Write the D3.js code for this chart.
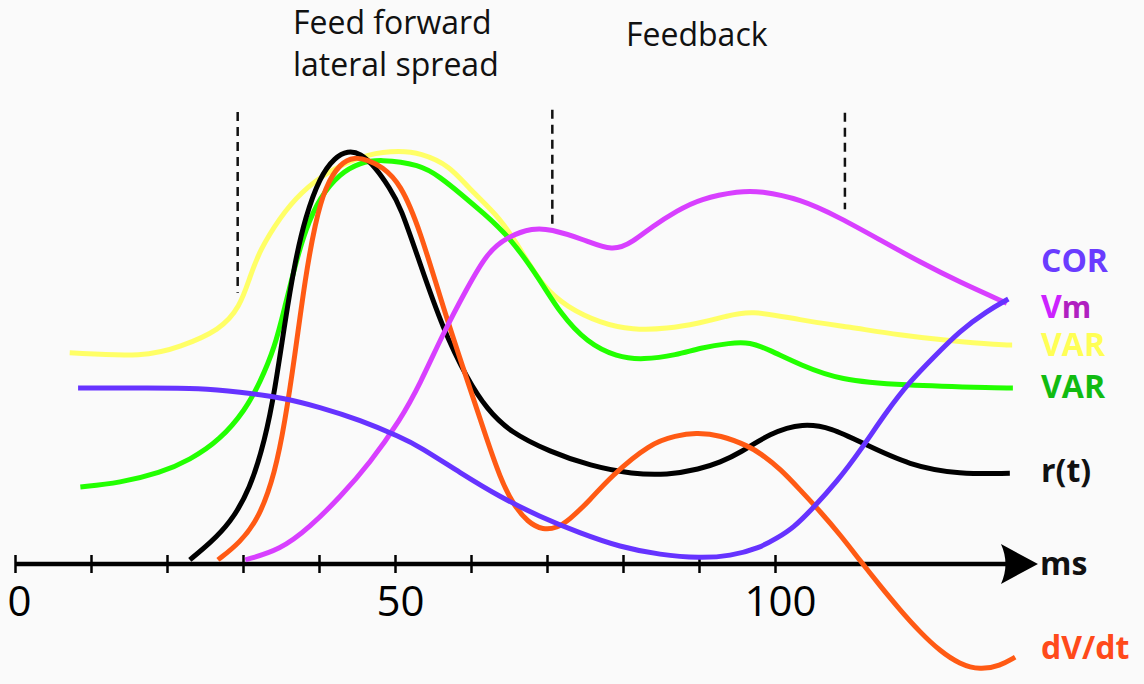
<!DOCTYPE html>
<html>
<head>
<meta charset="utf-8">
<script src="https://cdn.jsdelivr.net/npm/d3@7"></script>
<style>
  html, body { margin: 0; padding: 0; background: #fafafa; }
  #chart { width: 1144px; height: 684px; }
  text { font-family: "Open Sans", "DejaVu Sans", sans-serif; }
</style>
</head>
<body>
<div id="chart"></div>
<script>
// time in ms, response in arbitrary units (0 = axis, 100 = peak)
const varYellowT = [7.2, 17.1, 21.7, 27.0, 29.6, 30.9, 32.2, 34.9, 37.5, 41.4, 46.7, 50.7, 53.3, 57.2, 59.9, 63.8, 66.8, 69.5, 72.6, 77.0, 81.3, 85.8, 90.1, 93.4, 96.7, 103.3, 109.9, 116.4, 123.0, 129.6, 131.2];
const varYellowV = [51.0, 50.0, 52.4, 56.5, 62.1, 69.3, 75.8, 83.8, 89.6, 95.2, 99.3, 99.8, 99.3, 96.3, 90.3, 83.8, 75.1, 66.9, 62.1, 58.2, 56.5, 56.8, 58.2, 59.7, 61.4, 58.9, 57.2, 55.3, 53.9, 52.9, 52.9];

const varGreenT = [8.6, 13.8, 19.1, 23.0, 27.0, 30.3, 32.2, 34.2, 35.5, 36.8, 38.2, 40.1, 42.8, 45.4, 48.0, 53.3, 55.9, 58.6, 61.6, 65.1, 69.1, 71.7, 75.3, 79.2, 82.6, 87.1, 90.1, 94.1, 96.7, 99.3, 103.3, 108.6, 116.4, 129.6, 131.3];
const varGreenV = [18.6, 19.6, 22.0, 25.1, 30.0, 37.2, 43.7, 52.4, 62.1, 71.7, 80.7, 88.6, 94.4, 96.9, 97.8, 96.5, 93.5, 89.5, 84.8, 79.0, 68.6, 60.6, 53.4, 50.0, 49.3, 50.5, 52.2, 53.4, 53.6, 51.7, 48.1, 44.4, 43.2, 42.5, 42.5];

const rateT = [23.0, 25.7, 28.3, 30.9, 32.9, 34.2, 35.5, 36.8, 38.2, 40.1, 42.1, 43.8, 45.4, 47.4, 49.3, 50.7, 53.3, 56.3, 59.5, 62.1, 65.1, 70.4, 75.7, 81.3, 85.8, 90.1, 92.8, 95.4, 99.3, 103.7, 107.5, 111.2, 117.8, 124.3, 130.9];
const rateV = [1.0, 5.1, 9.9, 17.9, 30.0, 42.0, 58.2, 72.7, 83.8, 93.5, 98.3, 99.8, 99.3, 95.9, 90.8, 86.5, 72.5, 56.8, 44.7, 37.4, 31.9, 27.1, 23.7, 21.7, 21.5, 22.9, 24.6, 26.8, 31.6, 34.1, 32.8, 29.5, 23.7, 21.7, 21.9];

const dvdtT = [26.7, 29.6, 32.2, 34.2, 35.5, 36.8, 38.2, 39.5, 40.8, 42.8, 44.7, 46.4, 48.3, 50.7, 53.3, 56.3, 59.5, 62.1, 63.8, 65.5, 67.5, 69.5, 71.3, 72.9, 75.7, 78.3, 83.6, 87.0, 89.5, 92.8, 96.7, 98.0, 100.7, 103.3, 105.9, 108.6, 111.2, 113.8, 116.4, 119.1, 121.7, 124.3, 127.0, 129.6, 131.6];
const dvdtV = [1.0, 5.1, 11.4, 22.0, 34.1, 50.0, 69.3, 82.4, 91.1, 96.9, 98.3, 97.6, 96.0, 92.0, 80.7, 62.1, 44.4, 30.0, 21.0, 14.5, 10.0, 8.2, 8.7, 10.6, 15.5, 21.0, 29.2, 31.0, 31.7, 31.2, 28.3, 26.8, 23.0, 17.9, 12.8, 7.0, 0.8, -5.2, -11.0, -16.5, -21.0, -24.2, -25.6, -24.6, -22.5];

const vmT = [30.3, 34.9, 38.8, 42.8, 46.7, 50.7, 53.3, 56.3, 59.5, 62.1, 64.7, 68.2, 70.4, 74.7, 78.7, 81.3, 83.9, 87.1, 90.1, 95.4, 98.0, 103.3, 108.6, 113.8, 119.1, 124.3, 130.5];
const vmV = [1.0, 3.4, 8.9, 16.2, 24.4, 34.8, 43.5, 55.6, 66.7, 75.1, 79.0, 81.2, 80.9, 78.5, 75.4, 77.8, 81.6, 85.3, 88.2, 90.1, 90.1, 88.2, 83.6, 78.3, 72.9, 68.1, 63.0];

const corT = [8.3, 17.8, 24.3, 29.6, 34.9, 40.1, 45.4, 50.7, 53.3, 58.6, 63.8, 69.1, 74.3, 79.6, 84.9, 90.1, 94.1, 98.0, 100.3, 102.4, 105.0, 108.2, 111.2, 114.7, 117.8, 120.8, 124.3, 127.9, 130.7];
const corV = [42.5, 42.5, 42.5, 41.5, 40.3, 37.9, 34.8, 30.7, 28.3, 22.0, 16.2, 11.4, 7.5, 4.1, 2.2, 1.4, 1.9, 3.9, 6.3, 8.7, 13.5, 20.0, 27.3, 36.9, 44.2, 49.8, 56.3, 61.1, 64.0];

// phase markers (ms) and their top / bottom (response units)
const markerT = [29.3, 70.7, 109.2];
const markerTop = [109.2, 109.7, 109.0];
const markerBottom = [65.5, 81.4, 85.7];

const tickValues = [0, 10, 20, 30, 40, 50, 60, 70, 80, 90, 100];
const tickLabels = ["0", "50", "100"];
const axisEnd = 134.6;

const seriesNames = ["VAR", "VAR", "r(t)", "dV/dt", "Vm", "COR"];

const svg = d3.select("#chart").append("svg")
    .attr("width", 1144)
    .attr("height", 684);

svg.append("rect")
    .attr("width", 1144)
    .attr("height", 684)
    .attr("fill", "#fafafa");

const x = d3.scaleLinear().domain([0, 100]).range([15, 775]);
const y = d3.scaleLinear().domain([0, 100]).range([564, 150]);

// headings
svg.append("text").attr("x", 293).attr("y", 34)
    .style("font-size", "32px").attr("fill", "#111").text("Feed forward");
svg.append("text").attr("x", 293).attr("y", 76)
    .style("font-size", "32px").attr("fill", "#111").text("lateral spread");
svg.append("text").attr("x", 626).attr("y", 46)
    .style("font-size", "32px").attr("fill", "#111").text("Feedback");

// dashed phase boundaries
markerT.forEach((t, i) => {
    svg.append("line")
        .attr("x1", x(t)).attr("x2", x(t))
        .attr("y1", y(markerTop[i])).attr("y2", y(markerBottom[i]))
        .attr("stroke", "#111")
        .attr("stroke-width", 2.5)
        .attr("stroke-dasharray", "9,6");
});

// axis
const axis = d3.axisBottom(x)
    .tickValues(tickValues)
    .tickSize(9)
    .tickFormat(d => tickLabels.includes(String(d)) ? String(d) : "");

const gAxis = svg.append("g")
    .attr("transform", `translate(0,${y(0)})`)
    .call(axis);

gAxis.select(".domain").remove();
gAxis.selectAll(".tick line")
    .attr("y1", -9)
    .attr("stroke", "#000")
    .attr("stroke-width", 2.5);
gAxis.selectAll(".tick text")
    .attr("y", 52)
    .attr("dy", 0)
    .attr("dx", 5)
    .attr("fill", "#000")
    .style("font-family", "'Open Sans', 'DejaVu Sans', sans-serif")
    .style("font-size", "42px");
gAxis.select(".tick text").attr("dx", 4);

gAxis.append("line")
    .attr("x1", x(0)).attr("x2", x(axisEnd) - 30)
    .attr("y1", 0).attr("y2", 0)
    .attr("stroke", "#000")
    .attr("stroke-width", 4.5);

const tip = x(axisEnd);
gAxis.append("path")
    .attr("d", `M${tip},0 L${tip - 37},-20 Q${tip - 28},0 ${tip - 37},20 Z`)
    .attr("fill", "#000");

svg.append("text")
    .attr("x", tip + 2).attr("y", 575)
    .style("font-size", "32px").style("font-weight", "700")
    .attr("fill", "#111").text("ms");

// curves, smoothed like the hand-drawn original
const line = d3.line()
    .x(d => x(d[0]))
    .y(d => y(d[1]))
    .curve(d3.curveBasis);

const curves = [
    { t: varYellowT, v: varYellowV, color: "#ffff66" },
    { t: varGreenT, v: varGreenV, color: "#22ff00" },
    { t: rateT, v: rateV, color: "#000000" },
    { t: dvdtT, v: dvdtV, color: "#ff5a14" },
    { t: vmT, v: vmV, color: "#d83fff" },
    { t: corT, v: corV, color: "#6633ff" }
];

curves.forEach(c => {
    svg.append("path")
        .datum(c.t.map((t, i) => [t, c.v[i]]))
        .attr("d", line)
        .attr("fill", "none")
        .attr("stroke", c.color)
        .attr("stroke-width", 5)
        .attr("stroke-linecap", "butt");
});

// series labels on the right
const labelColors = ["#ffff55", "#11bb11", "#111111", "#ff4a1a", "#cc22ff", "#6a3cff"];
const labelBaseline = [356, 398, 482, 659, 318, 272];

seriesNames.forEach((name, i) => {
    const t = svg.append("text")
        .attr("x", 1041)
        .attr("y", labelBaseline[i])
        .style("font-size", "32px")
        .style("font-weight", "700")
        .attr("fill", labelColors[i]);
    if (name === "Vm") {
        t.append("tspan").text("V");
        t.append("tspan").attr("fill", "#b020c0").style("font-size", "30px").text("m");
    } else {
        t.text(name);
    }
});
</script>
</body>
</html>
